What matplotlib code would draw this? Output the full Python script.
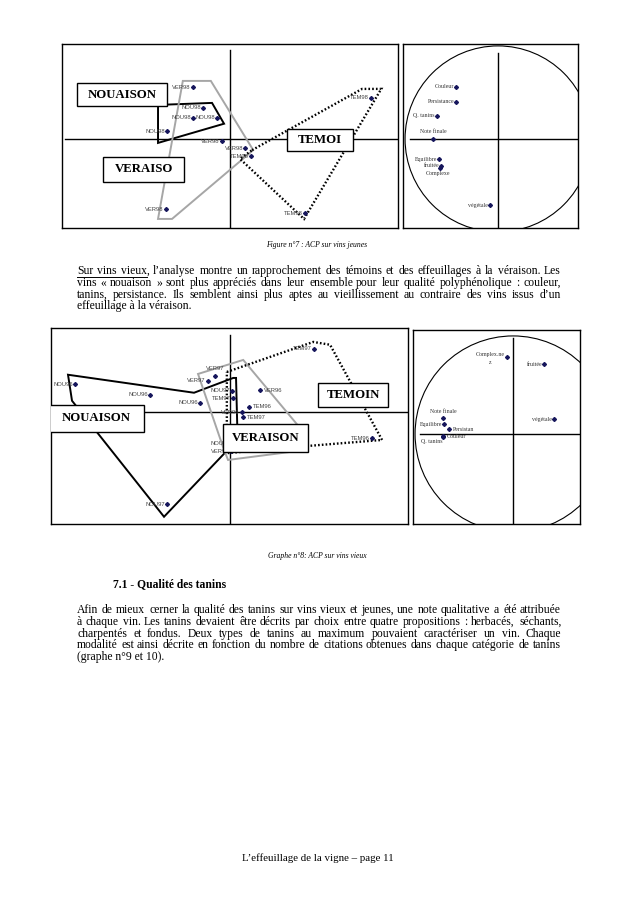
import matplotlib.pyplot as plt
from matplotlib.patches import Rectangle, Circle, Polygon
from matplotlib.transforms import IdentityTransform

W, H = 638, 903

# ---- Figure 7 : ACP sur vins jeunes (individus) ----
jeunes_ind_names = ['VER98', 'NOU98', 'NOU98', 'NOU98', 'NOU98', 'VER98',
                    'VER98', 'TEM98', 'TEM98', 'TEM98', 'VER98']
jeunes_ind_x = [-0.93, -0.68, -0.93, -0.33, -1.58, -0.20, 0.38, 0.53, 3.53, 1.88, -1.60]
jeunes_ind_y = [1.30, 0.78, 0.53, 0.53, 0.20, -0.05, -0.23, -0.43, 1.03, -1.85, -1.75]

jeunes_nou_x = [-1.80, -0.45, -0.15, -1.80]
jeunes_nou_y = [0.85, 0.90, 0.38, -0.10]
jeunes_ver_x = [-1.18, -0.48, 0.58, -1.45, -1.80]
jeunes_ver_y = [1.45, 1.45, -0.28, -2.00, -2.00]
jeunes_tem_x = [0.55, 3.30, 3.78, 1.85, 0.25]
jeunes_tem_y = [-0.28, 1.25, 1.25, -2.00, -0.50]

# variables (cercle des correlations)
jeunes_var_names = ['Couleur', 'Persistance', 'Q. tanins', 'Note finale',
                    'Equilibre', 'fruitée', 'Complexe', 'végétale']
jeunes_var_x = [-0.45, -0.45, -0.66, -0.70, -0.63, -0.61, -0.62, -0.09]
jeunes_var_y = [0.56, 0.40, 0.25, 0.00, -0.22, -0.29, -0.31, -0.71]

# ---- Graphe 8 : ACP sur vins vieux ----
vieux_ind_names = ['NOU96', 'NOU96', 'NOU96', 'VER97', 'VER97', 'NOU97', 'TEM97', 'VER96',
                   'TEM96', 'VER96', 'TEM97', 'TEM97', 'TEM96', 'NOU97', 'NOU97', 'VER97']
vieux_ind_x = [-3.88, -2.00, -0.75, -0.55, -0.38, 0.05, 0.08, 0.75,
               0.48, 0.30, 0.33, 2.10, 3.55, -1.58, 0.05, 0.03]
vieux_ind_y = [0.70, 0.43, 0.23, 0.78, 0.90, 0.53, 0.35, 0.55,
               0.13, 0.00, -0.13, 1.58, -0.65, -2.30, -0.78, -0.98]

vieux_nou_x = [-4.05, -0.90, 0.08, 0.15, 0.18, 0.15, -1.65, -3.95]
vieux_nou_y = [0.93, 0.48, 0.85, 0.85, -0.33, -0.73, -2.62, 0.28]
vieux_ver_x = [-0.80, 0.33, 1.75, 1.50, -0.05, -0.15]
vieux_ver_y = [0.95, 1.30, -0.40, -1.00, -1.20, -0.95]
vieux_tem_x = [-0.08, 2.08, 2.50, 3.80, 1.95, -0.08]
vieux_tem_y = [1.00, 1.75, 1.68, -0.70, -0.85, -1.03]

vieux_var_names = ['Complex.ne\nz', 'fruitée', 'végétale', 'Note finale',
                   'Equilibre', 'Persistan', 'Couleur', 'Q. tanins']
vieux_var_x = [-0.06, 0.32, 0.42, -0.71, -0.70, -0.65, -0.71, -0.71]
vieux_var_y = [0.79, 0.71, 0.15, 0.16, 0.10, 0.05, -0.02, -0.03]

# label side for each point: l = left, r = right, t = top, b = bottom, q = bottom left
jeunes_ind_pos = ['l'] * 11
vieux_ind_pos = ['l', 'l', 'l', 'l', 't', 'l', 'l', 'r', 'r', 'l', 'r', 'l', 'l', 'l', 'l', 'l']
jeunes_var_pos = ['l', 'l', 'l', 't', 'l', 'l', 'b', 'l']
vieux_var_pos = ['z', 'l', 'l', 't', 'l', 'r', 'r', 'q']

serif = 'Liberation Serif'
sans = 'Liberation Sans'
mark_col = '#16165c'

fig = plt.figure(figsize=(6.381, 9.031), dpi=100)
fig.patch.set_facecolor('white')


def panel(x0, y0, x1, y1, ox, oy, sc):
    # axes placed in page pixels, data = pixel offset from origin / scale
    ax = fig.add_axes([x0 / W, 1 - y1 / H, (x1 - x0) / W, (y1 - y0) / H])
    ax.set_xlim((x0 - ox) / sc, (x1 - ox) / sc)
    ax.set_ylim((oy - y1) / sc, (oy - y0) / sc)
    ax.set_xticks([])
    ax.set_yticks([])
    for s in ax.spines.values():
        s.set_linewidth(1.0)
        s.set_color('black')
    return ax


offsets = {'l': ((-1.5, 0), 'right', 'center'),
           'r': ((2.5, 0), 'left', 'center'),
           't': ((0, 3.5), 'center', 'bottom'),
           'b': ((-2, -2.5), 'center', 'top'),
           'q': ((-1, -1.5), 'right', 'top'),
           'z': ((-2, 3), 'right', 'top')}


def points(ax, xs, ys, names, pos, font, size, color):
    ax.plot(xs, ys, 'D', ms=2.0, color=mark_col, zorder=3, clip_on=False)
    for x, y, n, p in zip(xs, ys, names, pos):
        off, ha, va = offsets[p]
        ax.annotate(n, (x, y), xytext=off, textcoords='offset points', ha=ha, va=va,
                    fontsize=size, family=font, color=color, zorder=3,
                    multialignment='center', linespacing=1.6)


def hulls(ax, nou, ver, tem):
    ax.add_patch(Polygon(list(zip(*nou)), closed=True, fill=False, ec='black', lw=1.4, zorder=2))
    ax.add_patch(Polygon(list(zip(*ver)), closed=True, fill=False, ec='#a6a6a6', lw=1.4, zorder=2))
    ax.add_patch(Polygon(list(zip(*tem)), closed=True, fill=False, ec='black', lw=1.7,
                         ls=(0, (0.7, 0.9)), zorder=2))


def group_box(ax, text, cx, cy, w, h, sc):
    ax.add_patch(Rectangle((cx - w / 2 / sc, cy - h / 2 / sc), w / sc, h / sc,
                           fc='white', ec='black', lw=1.0, zorder=6))
    ax.text(cx, cy, text, ha='center', va='center', fontsize=9.2, fontweight='bold',
            family=serif, zorder=7)


# ---------- chart 1, individuals ----------
ax1 = panel(62, 44, 398, 228, 230, 139, 40)
ax1.plot([-4.12, 4.2], [0, 0], color='black', lw=1.0, zorder=1)
ax1.plot([0, 0], [2.22, -2.3], color='black', lw=1.0, zorder=1)
hulls(ax1, (jeunes_nou_x, jeunes_nou_y), (jeunes_ver_x, jeunes_ver_y), (jeunes_tem_x, jeunes_tem_y))
points(ax1, jeunes_ind_x, jeunes_ind_y, jeunes_ind_names, jeunes_ind_pos, sans, 4.2, '#444444')
group_box(ax1, 'NOUAISON', -2.70, 1.11, 90, 23, 40)
group_box(ax1, 'VERAISO', -2.16, -0.76, 81, 25, 40)
group_box(ax1, 'TEMOI', 2.25, -0.03, 66, 22, 40)

# ---------- chart 1, variables ----------
ax2 = panel(403, 44, 578, 228, 498, 139, 93)
ax2.add_patch(Circle((0, 0), 1.0, fill=False, ec='black', lw=0.8))
ax2.plot([-0.95, 1.0], [0, 0], color='black', lw=1.0)
ax2.plot([0, 0], [0.925, -1.0], color='black', lw=1.0)
points(ax2, jeunes_var_x, jeunes_var_y, jeunes_var_names, jeunes_var_pos, serif, 4.2, '#333333')

# ---------- chart 2, individuals ----------
ax3 = panel(51, 328, 408, 524, 230, 412, 40)
ax3.plot([-4.5, 4.5], [0, 0], color='black', lw=1.0, zorder=1)
ax3.plot([0, 0], [1.93, -2.9], color='black', lw=1.0, zorder=1)
hulls(ax3, (vieux_nou_x, vieux_nou_y), (vieux_ver_x, vieux_ver_y), (vieux_tem_x, vieux_tem_y))
points(ax3, vieux_ind_x, vieux_ind_y, vieux_ind_names, vieux_ind_pos, sans, 4.2, '#444444')
group_box(ax3, 'TEMOIN', 3.08, 0.43, 70, 24, 40)
group_box(ax3, 'NOUAISON', -3.34, -0.16, 95, 27, 40)
group_box(ax3, 'VERAISON', 0.89, -0.65, 85, 28, 40)

# ---------- chart 2, variables ----------
ax4 = panel(413, 330, 580, 524, 513, 434, 98)
ax4.add_patch(Circle((0, 0), 1.0, fill=False, ec='black', lw=0.8))
ax4.plot([-0.95, 1.0], [0, 0], color='black', lw=1.0)
ax4.plot([0, 0], [0.98, -1.0], color='black', lw=1.0)
points(ax4, vieux_var_x, vieux_var_y, vieux_var_names, vieux_var_pos, serif, 4.2, '#333333')

# ---------- page text ----------
renderer = fig.canvas.get_renderer()
body = 8.4


def put(x, y, s, **kw):
    # y = baseline in page pixels from the top, snapped to whole pixels
    return fig.text(x, round(H - y), s, transform=IdentityTransform(), va='baseline', **kw)


def justified(lines, x0, x1, y0, step):
    out = []
    for i, line in enumerate(lines):
        y = y0 + i * step
        if i == len(lines) - 1:
            out.append([put(x0, y, line, fontsize=body, family=serif)])
            continue
        words = line.split(' ')
        arts = [put(0, y, w, fontsize=body, family=serif) for w in words]
        widths = [a.get_window_extent(renderer).width for a in arts]
        gap = (x1 - x0 - sum(widths)) / (len(words) - 1)
        x = x0
        for a, w in zip(arts, widths):
            a.set_x(round(x))
            x += w + gap
        out.append(arts)
    return out


para1 = ["Sur vins vieux, l’analyse montre un rapprochement des témoins et des effeuillages à la véraison. Les",
         "vins « nouaison » sont plus appréciés dans leur ensemble pour leur qualité polyphénolique : couleur,",
         "tanins, persistance. Ils semblent ainsi plus aptes au vieillissement au contraire des vins issus d’un",
         "effeuillage à la véraison."]
para2 = ["Afin de mieux cerner la qualité des tanins sur vins vieux et jeunes, une note qualitative a été attribuée",
         "à chaque vin. Les tanins devaient être décrits par choix entre quatre propositions : herbacés, séchants,",
         "charpentés et fondus. Deux types de tanins au maximum pouvaient caractériser un vin. Chaque",
         "modalité est ainsi décrite en fonction du nombre de citations obtenues dans chaque catégorie de tanins",
         "(graphe n°9 et 10)."]

put(317, 247, 'Figure n°7 : ACP sur vins jeunes', fontsize=5.5, family=serif, style='italic',
    ha='center')
p1 = justified(para1, 77, 561, 274, 11.8)

# underline "Sur vins vieux"
first = p1[0]
x_end = first[2].get_position()[0] + put(0, 0, 'vieux', fontsize=body, family=serif,
                                         alpha=0).get_window_extent(renderer).width
fig.add_artist(plt.Line2D([77, x_end], [H - 276.5, H - 276.5], transform=IdentityTransform(),
                          color='black', lw=0.7))

put(317, 558, 'Graphe n°8: ACP sur vins vieux', fontsize=5.5, family=serif, style='italic',
    ha='center')
put(113, 587, '7.1 - Qualité des tanins', fontsize=body, family=serif, fontweight='bold')
justified(para2, 77, 561, 613, 11.8)

put(318, 861, 'L’effeuillage de la vigne – page 11', fontsize=7.8, family=serif, ha='center')

plt.savefig('out.png', dpi=100)
plt.close()
